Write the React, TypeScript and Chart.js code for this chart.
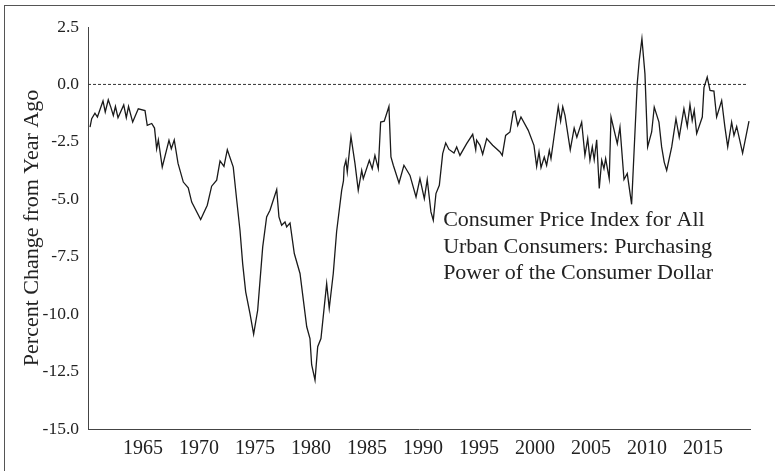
import React, { useEffect, useRef } from "react";
import { Chart, registerables } from "chart.js";

Chart.register(...registerables);

const years = [
  1960.27, 1960.42, 1960.71, 1960.93, 1961.43, 1961.63, 1961.9, 1962.14, 1962.35, 1962.54,
  1962.77, 1963.28, 1963.51, 1963.71, 1964.08, 1964.58, 1965.18, 1965.38, 1965.78, 1966.03,
  1966.22, 1966.37, 1966.72, 1967.32, 1967.53, 1967.79, 1968.13, 1968.6, 1969.04, 1969.35,
  1970.15, 1970.74, 1971.13, 1971.58, 1971.88, 1972.23, 1972.53, 1973.06, 1973.37, 1973.66,
  1973.9, 1974.17, 1974.55, 1974.88, 1975.24, 1975.69, 1976.04, 1976.34, 1976.94, 1977.14,
  1977.38, 1977.68, 1977.83, 1978.13, 1978.51, 1979.02, 1979.62, 1979.91, 1980.06, 1980.36,
  1980.6, 1980.89, 1981.4, 1981.63, 1981.99, 1982.29, 1982.74, 1982.9, 1982.96, 1983.12,
  1983.24, 1983.57, 1983.93, 1984.22, 1984.53, 1984.67, 1985.21, 1985.47, 1985.71, 1986.01,
  1986.22, 1986.54, 1986.96, 1987.14, 1987.35, 1987.86, 1988.3, 1988.84, 1989.38, 1989.73,
  1990.12, 1990.38, 1990.71, 1990.92, 1991.16, 1991.46, 1991.76, 1992.03, 1992.32, 1992.77,
  1993.01, 1993.3, 1993.9, 1994.44, 1994.71, 1994.79, 1995.09, 1995.33, 1995.69, 1996.22,
  1996.88, 1997.08, 1997.38, 1997.77, 1998.06, 1998.21, 1998.46, 1998.75, 1999.4, 1999.91,
  2000.15, 2000.36, 2000.54, 2000.83, 2001.04, 2001.28, 2001.43, 2001.7, 2002.08, 2002.29,
  2002.48, 2002.68, 2003.15, 2003.5, 2003.74, 2004.17, 2004.46, 2004.71, 2004.91, 2005.12,
  2005.29, 2005.51, 2005.74, 2005.96, 2006.16, 2006.31, 2006.63, 2006.79, 2007.35, 2007.59,
  2007.95, 2008.24, 2008.63, 2009.13, 2009.31, 2009.55, 2009.82, 2010.06, 2010.42, 2010.65,
  2011.07, 2011.31, 2011.54, 2011.76, 2012.21, 2012.59, 2012.88, 2013.3, 2013.6, 2013.84,
  2014.04, 2014.22, 2014.44, 2014.94, 2015.09, 2015.38, 2015.63, 2015.98, 2016.22, 2016.67,
  2016.96, 2017.21, 2017.56, 2017.77, 2018.01, 2018.54, 2019.11,
];

const values = [
  -1.86, -1.49, -1.25, -1.42, -0.72, -1.2, -0.67, -1.01, -1.35, -0.96,
  -1.45, -0.89, -1.45, -0.96, -1.64, -1.06, -1.14, -1.78, -1.7, -1.9,
  -2.8, -2.42, -3.6, -2.43, -2.8, -2.42, -3.44, -4.25, -4.5, -5.12,
  -5.88, -5.26, -4.43, -4.17, -3.33, -3.57, -2.84, -3.6, -5.04, -6.35,
  -7.8, -9.03, -9.97, -10.87, -9.83, -7.07, -5.77, -5.48, -4.58, -5.77,
  -6.13, -5.99, -6.2, -6.03, -7.36, -8.23, -10.55, -11.06, -12.2, -12.87,
  -11.42, -11.06, -8.67, -9.75, -8.23, -6.4, -4.61, -4.2, -3.6, -3.3,
  -3.81, -2.26, -3.45, -4.61, -3.74, -4.1, -3.3, -3.67, -3.09, -3.67,
  -1.64, -1.6, -0.96, -3.16, -3.52, -4.29, -3.52, -3.96, -4.9, -4.1,
  -4.97, -4.14, -5.55, -5.91, -4.75, -4.39, -3.01, -2.55, -2.83, -2.99,
  -2.72, -3.09, -2.58, -2.17, -2.84, -2.43, -2.65, -3.04, -2.36, -2.65,
  -2.94, -3.09, -2.22, -2.07, -1.2, -1.16, -1.78, -1.42, -2.0, -2.65,
  -3.57, -2.94, -3.62, -3.16, -3.52, -2.87, -3.23, -2.29, -0.96, -1.6,
  -0.97, -1.35, -2.85, -1.9, -2.3, -1.64, -3.09, -2.36, -3.3, -2.72,
  -3.28, -2.41, -4.53, -3.3, -3.67, -3.23, -4.1, -1.42, -2.58, -1.86,
  -4.14, -3.88, -5.22, 0.03, 1.04, 1.99, 0.46, -2.72, -2.07, -0.99,
  -1.64, -2.72, -3.38, -3.74, -2.72, -1.49, -2.29, -1.06, -1.83, -0.87,
  -1.57, -1.13, -2.14, -1.42, -0.14, 0.32, -0.26, -0.29, -1.42, -0.7,
  -1.86, -2.72, -1.64, -2.22, -1.83, -2.99, -1.6,
];

const xTickYears = [1965, 1970, 1975, 1980, 1985, 1990, 1995, 2000, 2005, 2010, 2015];
const yTickValues = [-15, -12.5, -10, -7.5, -5, -2.5, 0, 2.5];
const zeroLineYears = [1960.09, 2019.0];
const zeroLineValues = [0, 0];
const xRange = [1960.09, 2019.2];
const yRange = [-15, 2.5];
const yTitle = "Percent Change from Year Ago";
const annotationLines = [
  "Consumer Price Index for All",
  "Urban Consumers: Purchasing",
  "Power of the Consumer Dollar",
];
const annotationAt = { x: 1991.8, y: -6.17 };

const FONT = "'Liberation Serif', 'Times New Roman', serif";
const TEXT = "#222222";

const annotationPlugin = {
  id: "seriesAnnotation",
  afterDatasetsDraw(chart: any) {
    const { ctx, scales } = chart;
    const px = scales.x.getPixelForValue(annotationAt.x);
    const py = scales.y.getPixelForValue(annotationAt.y);
    ctx.save();
    ctx.font = `22px ${FONT}`;
    ctx.fillStyle = TEXT;
    ctx.textAlign = "left";
    ctx.textBaseline = "alphabetic";
    annotationLines.forEach((line, i) => ctx.fillText(line, px, py + i * 26.5));
    ctx.restore();
  },
};

export default function App() {
  const canvasRef = useRef<HTMLCanvasElement | null>(null);

  useEffect(() => {
    if (!canvasRef.current) return;
    const chart = new Chart(canvasRef.current, {
      type: "line",
      data: {
        datasets: [
          {
            data: years.map((x, i) => ({ x, y: values[i] })),
            borderColor: "#1a1a1a",
            borderWidth: 1.3,
            pointRadius: 0,
            tension: 0,
            fill: false,
          },
          {
            data: zeroLineYears.map((x, i) => ({ x, y: zeroLineValues[i] })),
            borderColor: "#333333",
            borderWidth: 1,
            borderDash: [3, 2],
            pointRadius: 0,
            fill: false,
          },
        ],
      },
      options: {
        animation: false,
        responsive: false,
        devicePixelRatio: 1,
        layout: { padding: { top: 27, right: 25, left: 0, bottom: 0 } },
        plugins: { legend: { display: false }, tooltip: { enabled: false } },
        scales: {
          x: {
            type: "linear",
            min: xRange[0],
            max: xRange[1],
            grid: { display: false, drawTicks: false },
            border: { display: true, color: "#444444", width: 1 },
            ticks: {
              color: TEXT,
              font: { family: FONT, size: 20 },
              padding: 8,
              maxRotation: 0,
              autoSkip: false,
              callback: (v: any) => String(v),
            },
            afterBuildTicks: (scale: any) => {
              scale.ticks = xTickYears.map((v) => ({ value: v }));
            },
            afterFit: (scale: any) => {
              scale.height = 42;
            },
          },
          y: {
            type: "linear",
            min: yRange[0],
            max: yRange[1],
            grid: { display: false, drawTicks: false },
            border: { display: true, color: "#444444", width: 1 },
            ticks: {
              color: TEXT,
              font: { family: FONT, size: 17.5 },
              padding: 9,
              callback: (v: any) => Number(v).toFixed(1),
            },
            afterBuildTicks: (scale: any) => {
              scale.ticks = yTickValues.map((v) => ({ value: v }));
            },
            title: {
              display: true,
              text: yTitle,
              color: TEXT,
              font: { family: FONT, size: 22 },
              padding: { top: 19, bottom: 0 },
            },
            afterFit: (scale: any) => {
              scale.width = 88;
            },
          },
        },
      },
      plugins: [annotationPlugin],
    });
    return () => chart.destroy();
  }, []);

  return (
    <div
      style={{
        position: "absolute",
        left: 0,
        top: 0,
        width: 775,
        height: 471,
        overflow: "hidden",
        background: "#ffffff",
      }}
    >
      <div
        style={{
          position: "absolute",
          left: 4,
          top: 5,
          right: 0,
          bottom: 0,
          borderTop: "1px solid #555555",
          borderLeft: "1px solid #555555",
        }}
      />
      <canvas
        ref={canvasRef}
        width={775}
        height={471}
        style={{ position: "absolute", left: 0, top: 0, width: 775, height: 471 }}
      />
    </div>
  );
}
